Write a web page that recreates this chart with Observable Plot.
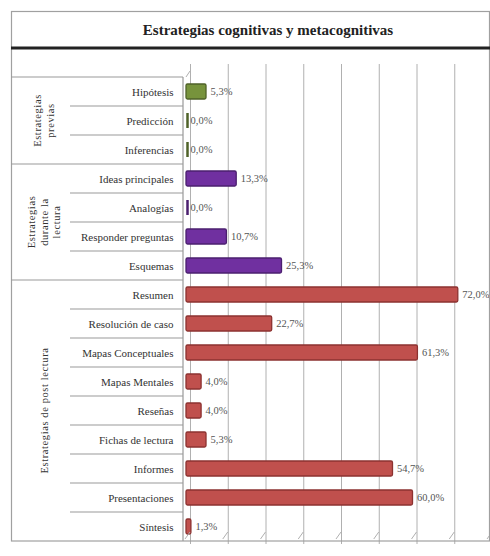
<!DOCTYPE html>
<html>
<head>
<meta charset="utf-8">
<script src="https://cdn.jsdelivr.net/npm/d3@7"></script>
<script src="https://cdn.jsdelivr.net/npm/@observablehq/plot@0.6"></script>
<style>
  html, body { margin: 0; padding: 0; background: #fff; }
  #chart { width: 490px; height: 556px; }
  #chart svg text { font-family: 'Liberation Serif', 'DejaVu Serif', serif !important; }
</style>
</head>
<body>
<div id="chart"></div>
<script>
const title = "Estrategias cognitivas y metacognitivas";
const categories = ["Hipótesis","Predicción","Inferencias","Ideas principales","Analogías","Responder preguntas","Esquemas","Resumen","Resolución de caso","Mapas Conceptuales","Mapas Mentales","Reseñas","Fichas de lectura","Informes","Presentaciones","Síntesis"];
const values = [5.3, 0.0, 0.0, 13.3, 0.0, 10.7, 25.3, 72.0, 22.7, 61.3, 4.0, 4.0, 5.3, 54.7, 60.0, 1.3];
const groupOf = ["previas","previas","previas","durante","durante","durante","durante","post","post","post","post","post","post","post","post","post"];
const groupKeys = ["previas","durante","post"];
const groupLabels = [["Estrategias","previas"],["Estrategias","durante la","lectura"],["Estrategias de post lectura"]];
const groupFill = ["#77933C","#7030A0","#C0504D"];
const groupStroke = ["#4F6228","#4B1F6F","#8C3230"];
const gridTicks = [0,10,20,30,40,50,60,70,80];

const data = categories.map((c, i) => ({category: c, value: values[i], group: groupOf[i]}));
const fmt = v => v.toFixed(1).replace(".", ",") + "%";
const font = "'Liberation Serif', 'DejaVu Serif', serif";

const marks = [Plot.ruleX(gridTicks, {stroke: "#b0b0b0", dx: 4, insetBottom: 9})];
groupKeys.forEach((g, gi) => {
  const rows = data.filter(d => d.group === g);
  marks.push(Plot.barX(rows.filter(d => d.value > 0), {x: "value", y: "category", fill: groupFill[gi], stroke: groupStroke[gi], strokeWidth: 1.3, rx: 1.5}));
  marks.push(Plot.tickX(rows.filter(d => d.value === 0), {x: "value", y: "category", stroke: groupStroke[gi], strokeWidth: 2.5, dx: 1}));
});
marks.push(Plot.text(data, {x: "value", y: "category", text: d => fmt(d.value), textAnchor: "start", dx: 4, fontSize: 10.5, fontFamily: font, fill: "#555"}));
marks.push(Plot.axisY({tickSize: 0, tickPadding: 13, fontSize: 11, fontFamily: font, fill: "#333", label: null}));

const plot = Plot.plot({
  width: 490, height: 556,
  marginLeft: 186, marginRight: 2, marginTop: 64, marginBottom: 3,
  style: {fontFamily: font, background: "#fff", color: "#333"},
  x: {domain: [0, 80], axis: null},
  y: {domain: categories, padding: 0.5, axis: null},
  marks
});

const svg = d3.select(plot);
const ys = plot.scale("y");
const xs = plot.scale("x");
const bw = ys.bandwidth, step = ys.step;
const yTop = ys.apply(categories[0]) + bw / 2 - step / 2;
const yBottom = ys.apply(categories[categories.length - 1]) + bw / 2 + step / 2;
const g = svg.append("g");
const line = (x1, y1, x2, y2, stroke, w) => g.append("line").attr("x1", x1).attr("y1", y1).attr("x2", x2).attr("y2", y2).attr("stroke", stroke).attr("stroke-width", w);

// gridline feet (3D floor)
gridTicks.forEach(t => {
  const x = xs.apply(t) + 4;
  line(x, yBottom - 9, x - 5, yBottom - 2, "#b0b0b0", 1);
});
line(xs.apply(0), yTop, xs.apply(0) + 4, yTop - 6, "#b0b0b0", 1);

// outer frame + title band
g.append("rect").attr("x", 11.5).attr("y", 11.5).attr("width", 478).attr("height", yBottom - 11.5)
  .attr("fill", "none").attr("stroke", "#a0a0a0").attr("stroke-width", 1.2);
line(11, 48, 490, 48, "#222", 3);
svg.append("text").attr("x", 268).attr("y", 35).attr("text-anchor", "middle")
  .attr("font-weight", "bold").attr("font-size", 15).attr("fill", "#222").text(title);

// label panel
const panelRight = 183;
line(11, yTop, panelRight, yTop, "#999", 1.2);
line(panelRight, yTop, panelRight, yBottom, "#999", 1.2);
categories.forEach((c, i) => {
  if (i === 0) return;
  const yb = ys.apply(c) + bw / 2 - step / 2;
  if (groupOf[i] === groupOf[i - 1]) line(70, yb, panelRight, yb, "#999", 1);
  else line(11, yb, panelRight, yb, "#999", 1.2);
});

// rotated group labels
groupKeys.forEach((gk, gi) => {
  const cats = categories.filter((c, i) => groupOf[i] === gk);
  const y0 = ys.apply(cats[0]);
  const y1 = ys.apply(cats[cats.length - 1]) + bw;
  const cy = (y0 + y1) / 2;
  const lines = groupLabels[gi];
  const lh = 12.5;
  const t = g.append("text").attr("transform", `translate(44,${cy}) rotate(-90)`)
    .attr("text-anchor", "middle").attr("font-size", 10.5)
    .attr("fill", "#333").attr("letter-spacing", 0.6);
  lines.forEach((s, k) => {
    t.append("tspan").attr("x", 0).attr("y", (k - (lines.length - 1) / 2) * lh).attr("dy", "0.35em").text(s);
  });
});

document.getElementById("chart").appendChild(plot);
</script>
</body>
</html>
